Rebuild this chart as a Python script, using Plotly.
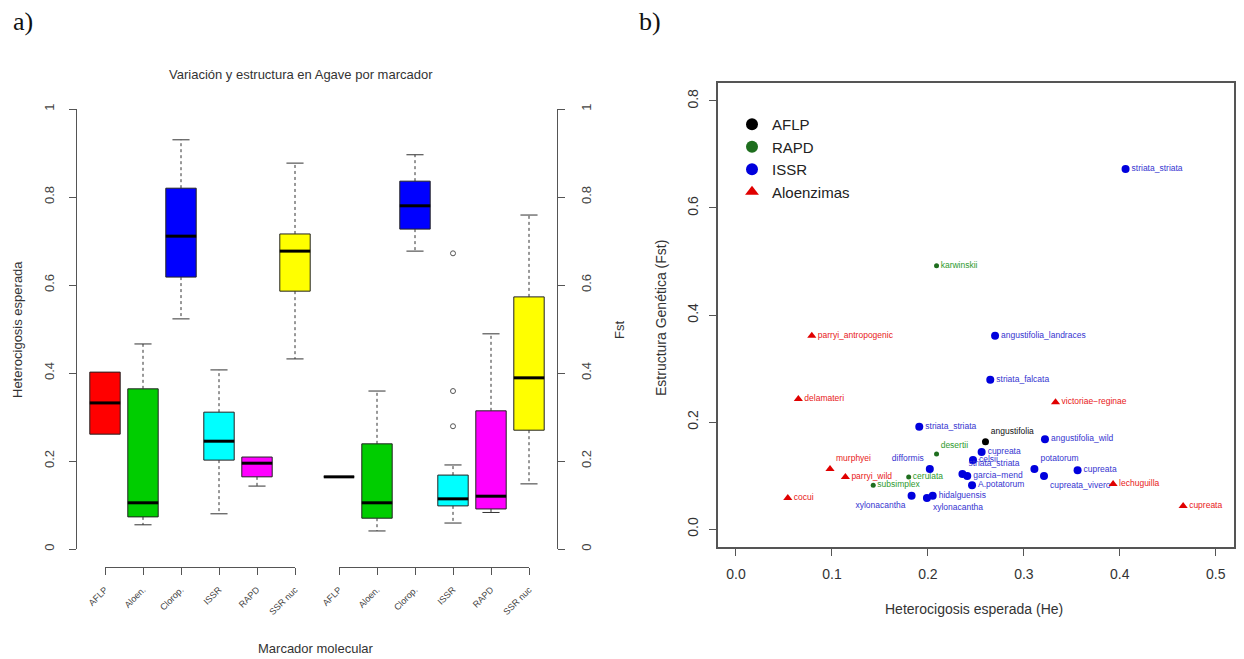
import plotly.graph_objects as go

W, H = 1244, 659


def fx(p):
    return p / W


def fy(p):
    return 1 - p / H


# ---------------- Panel a data ----------------
markers = ["AFLP", "Aloen.", "Clorop.", "ISSR", "RAPD", "SSR nuc"]
box_colors = ["#FF0000", "#00CD00", "#0000FF", "#00FFFF", "#FF00FF", "#FFFF00"]

# Heterocigosis esperada (He)
he_low = [0.261, 0.055, 0.523, 0.080, 0.143, 0.432]
he_q1 = [0.261, 0.073, 0.618, 0.202, 0.164, 0.586]
he_med = [0.332, 0.105, 0.711, 0.245, 0.195, 0.677]
he_q3 = [0.402, 0.364, 0.820, 0.311, 0.209, 0.716]
he_high = [0.402, 0.466, 0.930, 0.407, 0.209, 0.877]
he_out = [[], [], [], [], [], []]

# Fst
fst_low = [0.164, 0.041, 0.677, 0.059, 0.083, 0.148]
fst_q1 = [0.164, 0.070, 0.727, 0.098, 0.091, 0.270]
fst_med = [0.164, 0.105, 0.780, 0.114, 0.120, 0.389]
fst_q3 = [0.164, 0.239, 0.836, 0.168, 0.314, 0.573]
fst_high = [0.164, 0.359, 0.896, 0.191, 0.489, 0.759]
fst_out = [[], [], [], [0.672, 0.359, 0.279], [], []]

a_ticks = [0, 0.2, 0.4, 0.6, 0.8, 1]
a_ticktext = ["0", "0.2", "0.4", "0.6", "0.8", "1"]

# ---------------- Panel b data ----------------
aflp_x = [0.260]
aflp_y = [0.163]
aflp_lab = ["angustifolia"]

rapd_x = [0.209, 0.209, 0.180, 0.143]
rapd_y = [0.492, 0.140, 0.097, 0.082]
rapd_lab = ["karwinskii", "desertii", "cerulata", "subsimplex"]

issr_x = [0.406, 0.270, 0.265, 0.191, 0.322, 0.256, 0.247, 0.202, 0.236,
          0.241, 0.246, 0.183, 0.199, 0.205, 0.311, 0.356, 0.321]
issr_y = [0.673, 0.361, 0.279, 0.191, 0.168, 0.144, 0.129, 0.112, 0.103,
          0.099, 0.082, 0.062, 0.058, 0.062, 0.112, 0.110, 0.099]
issr_lab = ["striata_striata", "angustifolia_landraces", "striata_falcata",
            "striata_striata", "angustifolia_wild", "cupreata", "celsii",
            "difformis", "striata_striata", "garcia\u2212mend", "A.potatorum",
            "xylonacantha", "xylonacantha", "hidalguensis", "potatorum",
            "cupreata", "cupreata_vivero"]

alo_x = [0.079, 0.065, 0.333, 0.098, 0.114, 0.393, 0.466, 0.054]
alo_y = [0.361, 0.243, 0.237, 0.112, 0.097, 0.084, 0.043, 0.058]
alo_lab = ["parryi_antropogenic", "delamateri", "victoriae\u2212reginae",
           "murphyei", "parryi_wild", "lechuguilla", "cupreata", "cocui"]

b_xticks = [0.0, 0.1, 0.2, 0.3, 0.4, 0.5]
b_xticktext = ["0.0", "0.1", "0.2", "0.3", "0.4", "0.5"]
b_yticks = [0.0, 0.2, 0.4, 0.6, 0.8]
b_yticktext = ["0.0", "0.2", "0.4", "0.6", "0.8"]

# ---------------- styles ----------------
FONT = "Liberation Sans, Arial, sans-serif"
GAP = 1.158           # spacing between the two groups of boxes
BOXW = 0.8
CAPW = 0.45
LABEL_SIZE = 8.5
pos1 = [1 + i for i in range(len(markers))]
pos2 = [len(markers) + GAP + i for i in range(len(markers))]

issr_pos = ["middle right", "middle right", "middle right", "middle right",
            "middle right", "middle right", "middle right", "top left",
            "top right", "middle right", "middle right", "bottom left",
            "bottom right", "middle right", "top right", "middle right",
            "bottom right"]
alo_pos = ["middle right", "middle right", "middle right", "top right",
           "middle right", "middle right", "middle right", "middle right"]
rapd_pos = ["middle right", "top right", "middle right", "middle right"]
aflp_pos = ["top right"]

fig = go.Figure()


def add_group(pos, low, q1, med, q3, high, outs, yax):
    fig.add_trace(go.Bar(
        x=pos, base=q1, y=[b - a for a, b in zip(q1, q3)], width=BOXW,
        marker=dict(color=box_colors, line=dict(color="#222222", width=1)),
        xaxis="x", yaxis=yax, showlegend=False, hoverinfo="skip"))
    wx, wy, cx, cy, mx, my = [], [], [], [], [], []
    for p, lo, a, m, b, hi in zip(pos, low, q1, med, q3, high):
        if hi > b:
            wx += [p, p, None]
            wy += [b, hi, None]
            cx += [p - CAPW / 2, p + CAPW / 2, None]
            cy += [hi, hi, None]
        if lo < a:
            wx += [p, p, None]
            wy += [a, lo, None]
            cx += [p - CAPW / 2, p + CAPW / 2, None]
            cy += [lo, lo, None]
        mx += [p - BOXW / 2, p + BOXW / 2, None]
        my += [m, m, None]
    fig.add_trace(go.Scatter(x=wx, y=wy, mode="lines", xaxis="x", yaxis=yax,
                             line=dict(color="#333333", width=1, dash="3px,3px"),
                             showlegend=False, hoverinfo="skip"))
    fig.add_trace(go.Scatter(x=cx, y=cy, mode="lines", xaxis="x", yaxis=yax,
                             line=dict(color="#333333", width=1),
                             showlegend=False, hoverinfo="skip"))
    fig.add_trace(go.Scatter(x=mx, y=my, mode="lines", xaxis="x", yaxis=yax,
                             line=dict(color="#000000", width=3),
                             showlegend=False, hoverinfo="skip"))
    ox, oy = [], []
    for p, vals in zip(pos, outs):
        for v in vals:
            ox.append(p)
            oy.append(v)
    if ox:
        fig.add_trace(go.Scatter(x=ox, y=oy, mode="markers", xaxis="x", yaxis=yax,
                                 marker=dict(symbol="circle-open", size=5,
                                             color="#555555", line=dict(width=1)),
                                 showlegend=False, hoverinfo="skip"))


add_group(pos1, he_low, he_q1, he_med, he_q3, he_high, he_out, "y")
add_group(pos2, fst_low, fst_q1, fst_med, fst_q3, fst_high, fst_out, "y2")

# category axes (drawn R-style from first to last tick)
fig.add_trace(go.Scatter(x=list(range(1, 7)), y=[None] * 6, mode="markers",
                         xaxis="x3", yaxis="y", showlegend=False, hoverinfo="skip"))
fig.add_trace(go.Scatter(x=list(range(1, 7)), y=[None] * 6, mode="markers",
                         xaxis="x4", yaxis="y2", showlegend=False, hoverinfo="skip"))


# ---------------- Panel b traces ----------------
def add_pts(xs, ys, labs, tpos, name, color, tcolor, symbol, size):
    fig.add_trace(go.Scatter(
        x=xs, y=ys, text=labs, textposition=tpos, mode="markers+text",
        name=name, xaxis="x5", yaxis="y5",
        marker=dict(color=color, symbol=symbol, size=size),
        textfont=dict(color=tcolor, size=LABEL_SIZE, family=FONT),
        hoverinfo="text"))


add_pts(aflp_x, aflp_y, aflp_lab, aflp_pos, "AFLP", "#000000", "#111111", "circle", 7)
add_pts(rapd_x, rapd_y, rapd_lab, rapd_pos, "RAPD", "#1E6E1E", "#2E9A2E", "circle", 5)
add_pts(issr_x, issr_y, issr_lab, issr_pos, "ISSR", "#0000DD", "#3535D0", "circle", 8)
add_pts(alo_x, alo_y, alo_lab, alo_pos, "Aloenzimas", "#E00000", "#E82020", "triangle-up", 8)

axis_a = dict(range=[0, 1], tickvals=a_ticks, ticktext=a_ticktext, tickangle=-90,
              showline=True, linecolor="#555555", linewidth=1, ticks="outside",
              ticklen=7, tickcolor="#555555", showgrid=False, zeroline=False,
              tickfont=dict(size=13, color="#444444", family=FONT),
              ticklabelstandoff=10)

cat_axis = dict(range=[1, 6], tickvals=list(range(1, 7)), ticktext=markers,
                tickangle=-45, showline=True, linecolor="#555555", ticks="outside",
                ticklen=7, tickcolor="#555555", showgrid=False, zeroline=False,
                anchor="free", position=fy(567),
                tickfont=dict(size=9, color="#444444", family=FONT),
                ticklabelstandoff=6)

fig.update_layout(
    width=W, height=H, autosize=False,
    margin=dict(l=0, r=0, t=0, b=0, pad=0, autoexpand=False),
    paper_bgcolor="white", plot_bgcolor="rgba(0,0,0,0)",
    barmode="overlay",
    font=dict(family=FONT),
    xaxis=dict(domain=[fx(77), fx(557)],
               range=[1 - 28 / 38, pos2[-1] + 28 / 38],
               visible=False, anchor="y", showgrid=False, zeroline=False),
    yaxis=dict(domain=[fy(549), fy(109)], anchor="x", side="left", **axis_a),
    yaxis2=dict(domain=[fy(549), fy(109)], anchor="x", side="right",
                overlaying="y", **axis_a),
    xaxis3=dict(domain=[fx(105), fx(295)], **cat_axis),
    xaxis4=dict(domain=[fx(339), fx(529)], **cat_axis),
    xaxis5=dict(domain=[fx(718), fx(1234)], range=[-0.01875, 0.519],
                anchor="y5", tickvals=b_xticks, ticktext=b_xticktext,
                showline=True, mirror=True, linecolor="#555555", linewidth=1.5,
                ticks="outside", ticklen=7, tickcolor="#555555",
                showgrid=False, zeroline=False, ticklabelstandoff=6,
                tickfont=dict(size=14, color="#333333", family=FONT)),
    yaxis5=dict(domain=[fy(547), fy(83)], range=[-0.0336, 0.8336],
                anchor="x5", tickvals=b_yticks, ticktext=b_yticktext,
                tickangle=-90, showline=True, mirror=True, linecolor="#555555",
                linewidth=1.5, ticks="outside", ticklen=7, tickcolor="#555555",
                showgrid=False, zeroline=False, ticklabelstandoff=6,
                tickfont=dict(size=14, color="#333333", family=FONT)),
    legend=dict(x=fx(732), y=fy(108), xanchor="left", yanchor="top",
                bgcolor="rgba(0,0,0,0)", itemsizing="constant",
                font=dict(size=15, color="#222222", family=FONT),
                tracegroupgap=0),
    annotations=[
        dict(text="a)", x=fx(11), y=fy(22), xref="paper", yref="paper",
             xanchor="left", yanchor="middle", showarrow=False,
             font=dict(size=26, color="#111111", family="Liberation Serif, serif")),
        dict(text="b)", x=fx(637), y=fy(22), xref="paper", yref="paper",
             xanchor="left", yanchor="middle", showarrow=False,
             font=dict(size=26, color="#111111", family="Liberation Serif, serif")),
        dict(text="Variación y estructura en Agave por marcador", x=fx(301), y=fy(75),
             xref="paper", yref="paper", xanchor="center", yanchor="middle",
             showarrow=False, font=dict(size=13, color="#333333", family=FONT)),
        dict(text="Marcador molecular", x=fx(316), y=fy(648), xref="paper",
             yref="paper", xanchor="center", yanchor="middle", showarrow=False,
             font=dict(size=13, color="#333333", family=FONT)),
        dict(text="Heterocigosis esperada", x=fx(17), y=fy(330), xref="paper",
             yref="paper", xanchor="center", yanchor="middle", showarrow=False,
             textangle=-90, font=dict(size=13, color="#333333", family=FONT)),
        dict(text="Fst", x=fx(619), y=fy(330), xref="paper", yref="paper",
             xanchor="center", yanchor="middle", showarrow=False, textangle=-90,
             font=dict(size=13, color="#333333", family=FONT)),
        dict(text="Heterocigosis esperada (He)", x=fx(974), y=fy(609),
             xref="paper", yref="paper", xanchor="center", yanchor="middle",
             showarrow=False, font=dict(size=14, color="#333333", family=FONT)),
        dict(text="Estructura Genética (Fst)", x=fx(661), y=fy(318),
             xref="paper", yref="paper", xanchor="center", yanchor="middle",
             showarrow=False, textangle=-90,
             font=dict(size=14, color="#333333", family=FONT)),
    ],
)

fig.write_html("out.html")
